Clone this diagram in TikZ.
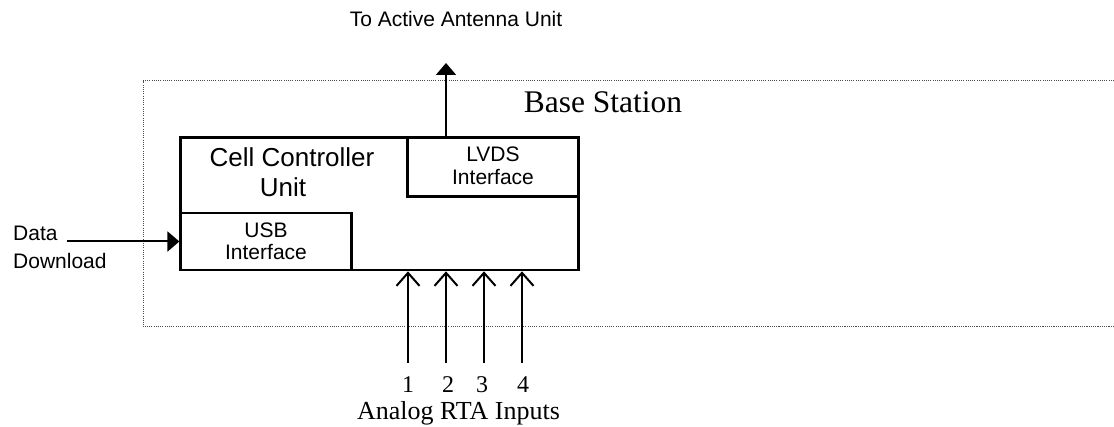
\documentclass[tikz,border=0pt]{standalone}
\usepackage{fontspec}
\setmainfont{Liberation Serif}
\newfontfamily\arialfont{Liberation Sans}
\usetikzlibrary{arrows.meta}

\tikzset{
  unitbox/.style={draw, line width=2.6pt, inner sep=0pt},
  sanslabel/.style={font=\arialfont\fontsize{21}{25}\selectfont, anchor=base, inner sep=0pt},
  bigsans/.style={font=\arialfont\fontsize{26}{30}\selectfont, anchor=base, inner sep=0pt},
  seriflabel/.style={font=\fontsize{26}{30}\selectfont, anchor=base, inner sep=0pt},
  numlabel/.style={font=\fontsize{24}{28}\selectfont, anchor=base, inner sep=0pt},
  outline/.style={draw=black!70, line width=1pt, dash pattern=on 1.1pt off 1.1pt},
  feed/.style={line width=2pt, -{Triangle[length=12pt,width=20pt]}},
  rtain/.style={line width=2pt, -{Straight Barb[length=13pt,width=23pt]}}
}

\begin{document}
\begin{tikzpicture}[x=1pt,y=-1pt]
  \useasboundingbox (0,0) rectangle (1114,427);

  % base station enclosure (open towards the right)
  \draw[outline] (1114,81) -- (143,81) -- (143,327) -- (1114,327);
  \node[font=\fontsize{31.5}{36}\selectfont, anchor=base, inner sep=0pt] (bs) at (603,113) {Base Station};

  % cell controller unit and its interfaces
  \node[unitbox, minimum width=398pt, minimum height=132.5pt] (ccu) at (379.7,203.8) {};
  \node[unitbox, minimum width=171pt, minimum height=57pt, fill=white] (usb) at (266.2,241.5) {};
  \node[unitbox, minimum width=171pt, minimum height=59.2pt, fill=white] (lvds) at (493.2,167.1) {};

  \node[bigsans] (ccuA) at (292,167) {Cell Controller};
  \node[bigsans] (ccuB) at (283,196.7) {Unit};
  \node[sanslabel] (usbA) at (266,237.3) {USB};
  \node[sanslabel] (usbB) at (266,260) {Interface};
  \node[sanslabel] (lvdsA) at (493,162) {LVDS};
  \node[sanslabel] (lvdsB) at (493,185) {Interface};

  % link to the antenna unit
  \coordinate (aau) at (446,63);
  \draw[feed] (lvds.north -| aau) -- (aau);
  \node[sanslabel] (aaulbl) at (456,27) {To Active Antenna Unit};

  % data download into the USB interface
  \coordinate (dd) at (67,241.5);
  \draw[feed] (dd) -- (usb.west);
  \node[sanslabel, anchor=base west] (ddA) at (13,240.5) {Data};
  \node[sanslabel, anchor=base west] (ddB) at (13,268.8) {Download};

  % analog RTA inputs
  \foreach \i/\x/\nx in {1/408/408, 2/446/448, 3/484/482, 4/522/523} {
    \coordinate (in\i) at (\x,363);
    \draw[rtain] (in\i) -- (in\i |- ccu.south);
    \node[numlabel] (n\i) at (\nx,393) {\i};
  }
  \node[seriflabel] (rta) at (458.5,420) {Analog RTA Inputs};
\end{tikzpicture}
\end{document}
